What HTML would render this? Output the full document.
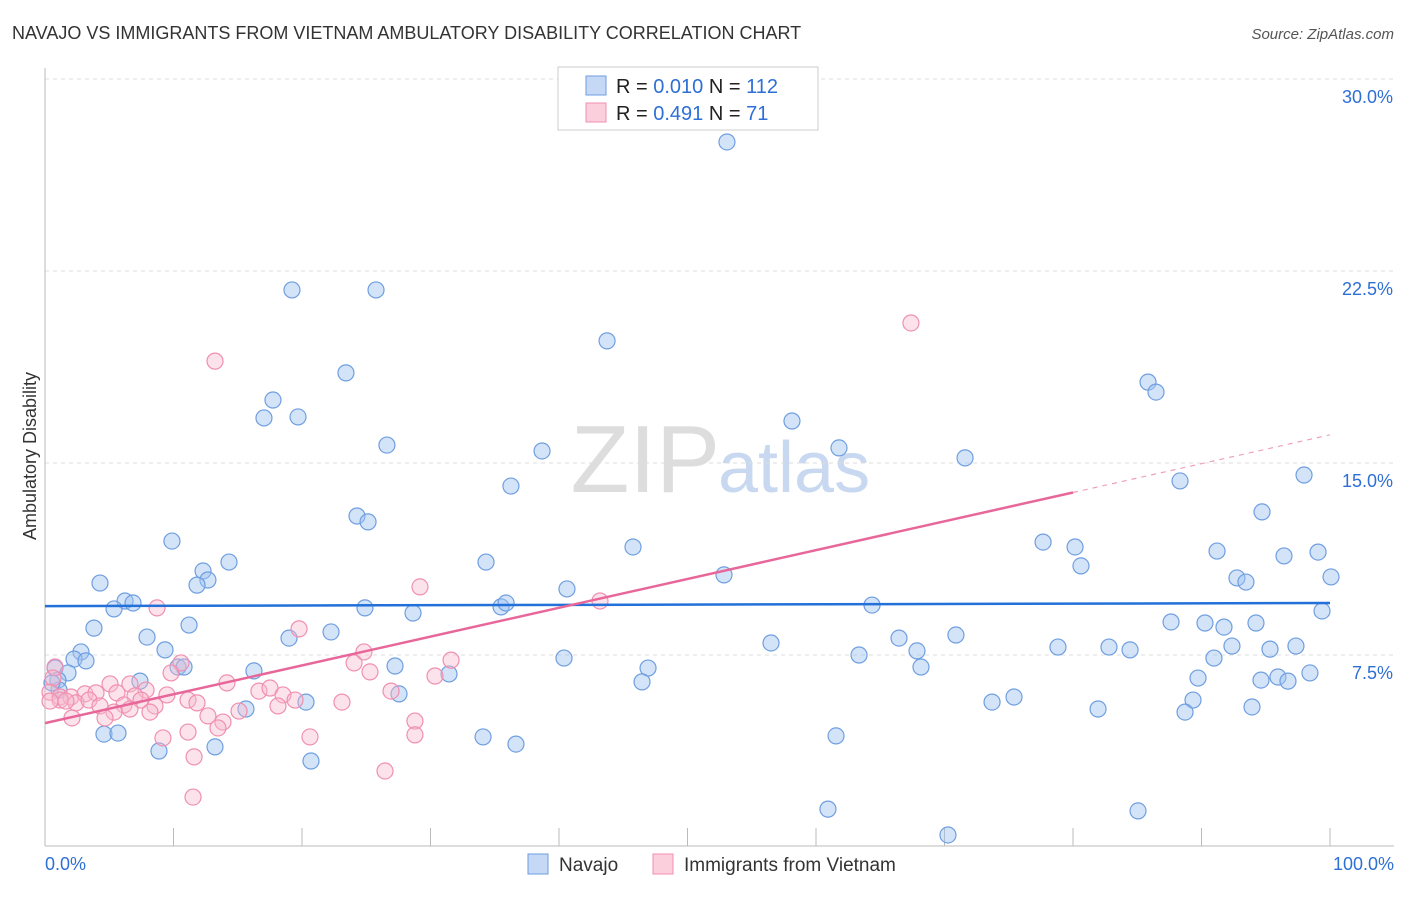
<!DOCTYPE html>
<html><head><meta charset="utf-8"><style>
body{margin:0;background:#fff;font-family:"Liberation Sans",sans-serif;}
svg text{font-family:"Liberation Sans",sans-serif;}
</style></head><body>
<svg id="c" width="1406" height="892">
<text x="12" y="39" font-size="18" fill="#333">NAVAJO VS IMMIGRANTS FROM VIETNAM AMBULATORY DISABILITY CORRELATION CHART</text>
<text x="1394" y="39" font-size="15" fill="#555" font-style="italic" text-anchor="end">Source: ZipAtlas.com</text>
<text x="36" y="456" font-size="18" fill="#333" text-anchor="middle" transform="rotate(-90 36 456)">Ambulatory Disability</text>
<text x="720" y="492" font-size="96" fill="#ddd" text-anchor="end" font-family="Liberation Serif">ZIP</text>
<text x="718" y="492" font-size="72" fill="#c8d8f0">atlas</text>
<g id="grid"></g><g id="pts"></g><g id="lines"></g>
<g>
<rect x="558" y="67" width="260" height="63" fill="#fff" stroke="#ccc"/>
<rect x="586" y="76" width="20" height="19" fill="#c5d8f5" stroke="#6f9ee0"/>
<rect x="586" y="103" width="20" height="19" fill="#fbcfdc" stroke="#f08fb0"/>
<text x="616" y="93" font-size="20" fill="#222">R = <tspan fill="#2e6fd6">0.010</tspan>   N = <tspan fill="#2e6fd6">112</tspan></text>
<text x="616" y="120" font-size="20" fill="#222">R = <tspan fill="#2e6fd6"> 0.491</tspan>   N = <tspan fill="#2e6fd6">  71</tspan></text>
</g>
<g>
<rect x="528" y="854" width="20" height="20" fill="#c5d8f5" stroke="#6f9ee0"/>
<text x="559" y="871" font-size="19" fill="#333">Navajo</text>
<rect x="653" y="854" width="20" height="20" fill="#fbcfdc" stroke="#f08fb0"/>
<text x="684" y="871" font-size="19" fill="#333">Immigrants from Vietnam</text>
</g>
</svg>
<script>
const yTicks=[7.5,15,22.5,30];
const yTickLabels=["7.5%","15.0%","22.5%","30.0%"];
const xTicks=[0,10,20,30,40,50,60,70,80,90,100];
const blueLine=[9.41,9.53];
const pinkLine=[4.84,16.1];
const pinkSolidEnd=80;
const bluePx=[[727,142],[292,290],[376,290],[607,341],[346,373],[1148,382],[1156,392],[273,400],[264,418],[298,417],[792,421],[387,445],[542,451],[839,448],[965,458],[1304,475],[1180,481],[511,486],[357,516],[368,522],[1262,512],[172,541],[1043,542],[1075,547],[633,547],[1217,551],[1284,556],[1318,552],[486,562],[1081,566],[229,562],[203,571],[208,580],[197,585],[100,583],[724,575],[1237,578],[1246,582],[1331,577],[567,589],[125,601],[133,603],[114,609],[501,607],[506,603],[365,608],[413,613],[872,605],[1322,611],[1171,622],[1205,623],[1224,627],[1256,623],[94,628],[189,625],[331,632],[289,638],[147,637],[956,635],[899,638],[771,643],[1058,647],[1109,647],[1130,650],[1232,646],[1270,649],[1296,646],[165,650],[81,652],[74,659],[86,661],[917,651],[859,655],[1214,658],[564,658],[395,666],[178,667],[184,667],[55,668],[68,673],[254,671],[648,668],[921,667],[449,674],[642,682],[140,681],[58,680],[1198,678],[1278,677],[1261,680],[1310,673],[1288,681],[59,690],[399,694],[306,702],[992,702],[1014,697],[1193,700],[1098,709],[1185,712],[1252,707],[246,709],[104,734],[118,733],[836,736],[483,737],[516,744],[159,751],[215,747],[311,761],[828,809],[1138,811],[948,835],[52,683]];
const pinkPx=[[215,361],[911,323],[420,587],[600,601],[157,608],[299,629],[364,652],[354,663],[451,660],[435,676],[370,672],[181,663],[171,673],[55,667],[53,678],[130,684],[110,684],[146,690],[227,683],[259,691],[270,688],[283,695],[295,700],[391,691],[342,702],[50,692],[60,697],[71,697],[85,694],[96,693],[76,703],[89,700],[117,693],[135,696],[141,700],[167,695],[188,700],[124,705],[155,706],[100,706],[130,709],[114,712],[150,712],[197,703],[208,716],[239,711],[278,706],[72,718],[105,718],[223,722],[218,728],[188,732],[163,738],[310,737],[415,721],[415,735],[194,757],[385,771],[193,797],[60,700],[66,701],[50,701]];
// data values (percent) derived from the picture
const blueX=bluePx.map(p=>+((p[0]-45)/12.85).toFixed(2));
const blueY=bluePx.map(p=>+((847-p[1])/25.6).toFixed(2));
const pinkX=pinkPx.map(p=>+((p[0]-45)/12.85).toFixed(2));
const pinkY=pinkPx.map(p=>+((847-p[1])/25.6).toFixed(2));
const sx=v=>45+v*12.85, sy=v=>847-v*25.6;
const NS="http://www.w3.org/2000/svg";
function mk(t,a,parent){const e=document.createElementNS(NS,t);for(const k in a)e.setAttribute(k,a[k]);parent.appendChild(e);return e;}
const grid=document.getElementById('grid');
yTicks.forEach((t,i)=>{
 const l=mk('line',{x1:45,x2:1394,y1:sy(t),y2:sy(t),stroke:'#ddd','stroke-dasharray':'4,4'},grid);
 
 
 const tx=mk('text',{x:1393,y:sy(t)+24,'font-size':18,fill:'#2e6fd6','text-anchor':'end'},grid);
 tx.textContent=yTickLabels[i];
 
 
});
mk('line',{x1:45,x2:1394,y1:846,y2:846,stroke:'#bbb'},grid);
mk('line',{x1:45,x2:45,y1:68,y2:846,stroke:'#bbb'},grid);
xTicks.forEach(t=>{const l=mk('line',{x1:sx(t),x2:sx(t),y1:828,y2:846,stroke:'#bbb'},grid);
 
 });
let t0=mk('text',{x:45,y:870,'font-size':18,fill:'#2e6fd6'},grid);t0.textContent='0.0%';


let t1=mk('text',{x:1394,y:870,'font-size':18,fill:'#2e6fd6','text-anchor':'end'},grid);t1.textContent='100.0%';


const pts=document.getElementById('pts');
blueX.forEach((x,i)=>{const c=mk('circle',{cx:sx(x),cy:sy(blueY[i]),r:8,fill:'rgba(160,195,240,0.45)',stroke:'#6f9ee0','stroke-width':1.2},pts);
 
 });
pinkX.forEach((x,i)=>{const c=mk('circle',{cx:sx(x),cy:sy(pinkY[i]),r:8,fill:'rgba(248,185,205,0.4)',stroke:'#f08fb0','stroke-width':1.2},pts);
 
 });
const lines=document.getElementById('lines');
const bl=mk('line',{x1:sx(0),y1:sy(blueLine[0]),x2:sx(100),y2:sy(blueLine[1]),stroke:'#2270d8','stroke-width':2.5},lines);


const pm=pinkLine[0]+(pinkLine[1]-pinkLine[0])*pinkSolidEnd/100;
const pl=mk('line',{x1:sx(0),y1:sy(pinkLine[0]),x2:sx(pinkSolidEnd),y2:sy(pm),stroke:'#e8679a','stroke-width':2.5},lines);


const pd=mk('line',{x1:sx(pinkSolidEnd),y1:sy(pm),x2:sx(100),y2:sy(pinkLine[1]),stroke:'#f0a0bd','stroke-width':1.2,'stroke-dasharray':'5,5'},lines);


</script>
</body></html>
